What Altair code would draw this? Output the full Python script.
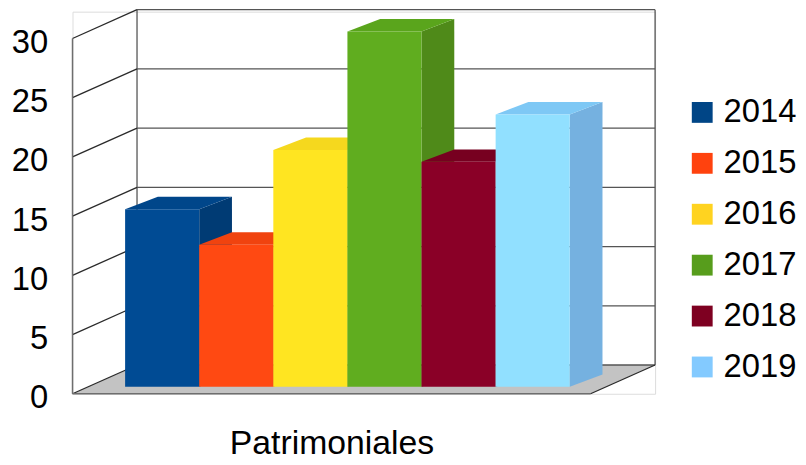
import altair as alt
import pandas as pd

# ---------------- data ----------------
category = "Patrimoniales"
years = ["2014", "2015", "2016", "2017", "2018", "2019"]
values = [15, 12, 20, 30, 19, 23]
y_ticks = [0, 5, 10, 15, 20, 25, 30]

# ---------------- styles ----------------
palette = ["#004586", "#ff420e", "#ffd320", "#579d1c", "#7e0021", "#83caff"]
front_colors = ["#004b94", "#ff4912", "#ffe521", "#60ad1f", "#8a0027", "#91e0ff"]
top_colors = ["#00468a", "#f0430f", "#f5d81e", "#5aa51c", "#770020", "#7ec8f5"]
side_colors = ["#003b74", "#c9340b", "#d6b81a", "#4f8a19", "#62001a", "#75b1e0"]
FONT = "Liberation Sans"

# ---------------- geometry (pixels -> value units) ----------------
W, H = 587, 385
PX = 358 / 30.0            # pixels per value unit
Y_MAX = H / PX
WALL_DX = 65
WALL_DY = 29 / PX
FLOOR_W = 522
BAR_X0 = 53
BAR_W = 448 / len(years)
BAR_DX = 33
BAR_DY = 12.5 / PX
BASE = 7 / PX
TOP = max(y_ticks)

xscale = alt.Scale(domain=[0, W], nice=False, zero=False)
yscale = alt.Scale(domain=[0, Y_MAX], nice=False, zero=False)
xaxis = alt.Axis(values=[FLOOR_W / 2], labelExpr=f"'{category}'", labelFontSize=34,
                 labelBaseline="alphabetic", labelPadding=60, ticks=False, domain=False,
                 grid=False, title=None, labelColor="#000000", labelFlush=False,
                 labelFont=FONT, labelLimit=1000, labelOverlap=False)
yaxis = alt.Axis(values=y_ticks, labelFontSize=33, labelColor="#000000", labelPadding=25,
                 ticks=False, domain=False, grid=False, title=None, labelOffset=4,
                 labelFont=FONT)


def X(f):
    return alt.X(f, type="quantitative", scale=xscale, axis=xaxis)


def Y(f):
    return alt.Y(f, type="quantitative", scale=yscale, axis=yaxis)


# ---------------- frame ----------------
floor = pd.DataFrame([
    {"x": 0, "y": 0, "y2": 0},
    {"x": WALL_DX, "y": WALL_DY, "y2": 0},
    {"x": FLOOR_W, "y": WALL_DY, "y2": 0},
    {"x": W, "y": WALL_DY, "y2": WALL_DY},
])
back_lines = pd.DataFrame(
    [{"x": WALL_DX, "x2": W, "y": v + WALL_DY, "y2": v + WALL_DY} for v in y_ticks]
    + [{"x": WALL_DX, "x2": WALL_DX, "y": WALL_DY, "y2": TOP + WALL_DY},
       {"x": W, "x2": W, "y": WALL_DY, "y2": TOP + WALL_DY}]
)
left_lines = pd.DataFrame(
    [{"x": 0, "x2": WALL_DX, "y": v, "y2": v + WALL_DY} for v in y_ticks]
)
front_lines = pd.DataFrame([
    {"x": 0, "x2": 0, "y": 0, "y2": TOP},
    {"x": 0, "x2": FLOOR_W, "y": 0, "y2": 0},
])
right_edge = pd.DataFrame([{"x": FLOOR_W, "x2": W, "y": 0, "y2": WALL_DY}])

# ---------------- bars ----------------
front_rows, side_rows, top_rows = [], [], []
for i, (yr, v) in enumerate(zip(years, values)):
    xl = BAR_X0 + i * BAR_W
    xr = xl + BAR_W
    t = BASE + v
    front_rows.append({"year": yr, "x": xl, "x2": xr, "y": t, "y2": BASE, "c": front_colors[i]})
    side_rows += [
        {"bar": yr, "x": xr, "y": t, "y2": BASE, "c": side_colors[i]},
        {"bar": yr, "x": xr + BAR_DX, "y": t + BAR_DY, "y2": BASE + BAR_DY, "c": side_colors[i]},
    ]
    top_rows += [
        {"bar": yr, "x": xl, "y": t, "y2": t, "c": top_colors[i]},
        {"bar": yr, "x": xl + BAR_DX, "y": t + BAR_DY, "y2": t, "c": top_colors[i]},
        {"bar": yr, "x": xr, "y": t + BAR_DY, "y2": t, "c": top_colors[i]},
        {"bar": yr, "x": xr + BAR_DX, "y": t + BAR_DY, "y2": t + BAR_DY, "c": top_colors[i]},
    ]
front = pd.DataFrame(front_rows)
sides = pd.DataFrame(side_rows)
tops = pd.DataFrame(top_rows)

floor_layer = alt.Chart(floor).mark_area(color="#c3c3c3", interpolate="linear").encode(
    x=X("x"), y=Y("y"), y2="y2")
back_layer = alt.Chart(back_lines).mark_rule(color="#555555", strokeWidth=1.3).encode(
    x=X("x"), x2="x2", y=Y("y"), y2="y2")
left_layer = alt.Chart(left_lines).mark_rule(color="#2a2a2a", strokeWidth=1.3).encode(
    x=X("x"), x2="x2", y=Y("y"), y2="y2")
front_line_layer = alt.Chart(front_lines).mark_rule(color="#6e6e6e", strokeWidth=1.5).encode(
    x=X("x"), x2="x2", y=Y("y"), y2="y2")
right_layer = alt.Chart(right_edge).mark_rule(color="#2a2a2a", strokeWidth=1.3).encode(
    x=X("x"), x2="x2", y=Y("y"), y2="y2")

legend_layer = alt.Chart(front).mark_rect().encode(
    x=X("x"), x2="x2",
    y=alt.Y("y2", type="quantitative", scale=yscale, axis=yaxis), y2="y2",
    color=alt.Color("year:N", scale=alt.Scale(domain=years, range=palette),
                    legend=alt.Legend(orient="none", legendX=618, legendY=85, title=None,
                                      symbolType="square", symbolSize=441,
                                      symbolStrokeWidth=0, labelFontSize=33,
                                      labelFont=FONT, labelColor="#000000",
                                      labelOffset=5, rowPadding=17.3, padding=0,
                                      labelLimit=200)))

side_layer = alt.Chart(sides).mark_area(interpolate="linear").encode(
    x=X("x"), y=Y("y"), y2="y2", detail="bar:N",
    color=alt.Color("c:N", scale=None))
top_layer = alt.Chart(tops).mark_area(interpolate="linear").encode(
    x=X("x"), y=Y("y"), y2="y2", detail="bar:N",
    color=alt.Color("c:N", scale=None))
front_layer = alt.Chart(front).mark_rect().encode(
    x=X("x"), x2="x2", y=Y("y"), y2="y2",
    color=alt.Color("c:N", scale=None))

chart = alt.layer(
    floor_layer, back_layer, left_layer, front_line_layer, right_layer,
    legend_layer, side_layer, top_layer, front_layer,
).resolve_scale(color="independent").properties(
    width=W, height=H,
    autosize=alt.AutoSizeParams(type="none"),
    padding={"left": 65, "top": 2, "right": 144, "bottom": 62},
    background="#ffffff",
).configure_view(stroke=None).configure(font=FONT)

chart.save("out.html", embed_options={"renderer": "svg", "actions": False})
